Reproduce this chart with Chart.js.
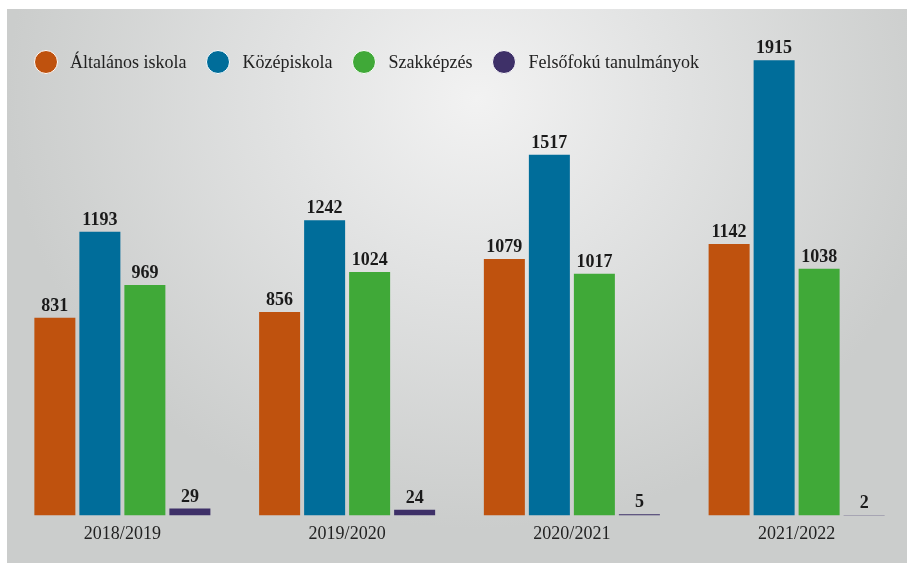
<!DOCTYPE html>
<html>
<head>
<meta charset="utf-8">
<script src="https://cdn.jsdelivr.net/npm/chart.js@4.4.1/dist/chart.umd.min.js"></script>
<style>
  html, body { margin: 0; padding: 0; background: #fff; overflow: hidden; }
  body { width: 907px; height: 563px; position: relative; }
  #panel {
    position: absolute; left: 7px; top: 9px; width: 902px; height: 554px;
    background: radial-gradient(ellipse 470px 430px at 470px 90px, #f2f2f2 0%, #e2e3e3 40%, #cbcdcc 100%);
  }
  #legend {
    position: absolute; left: 27px; top: 41px; display: flex; align-items: center;
    font-family: "Liberation Serif", serif; font-size: 18px; color: #222;
  }
  .item { display: flex; align-items: center; margin-right: 20px; }
  .dot {
    width: 22px; height: 22px; border-radius: 50%; border: 1.5px solid #fff;
    margin-right: 12px; box-sizing: content-box;
  }
  #chart { position: absolute; left: 0; top: 0; }
</style>
</head>
<body>
<div id="panel">
  <canvas id="chart" width="902" height="554"></canvas>
  <div id="legend"></div>
</div>
<script>
// Iskolai végzettség szerinti megoszlás, tanévenként
const years = ["2018/2019", "2019/2020", "2020/2021", "2021/2022"];
const seriesNames = ["Általános iskola", "Középiskola", "Szakképzés", "Felsőfokú tanulmányok"];
const altalanos = [831, 856, 1079, 1142];
const kozep = [1193, 1242, 1517, 1915];
const szakkepzes = [969, 1024, 1017, 1038];
const felsofoku = [29, 24, 5, 2];
const colors = ["#bf520e", "#006d9a", "#40a938", "#3e3068"];

const FONT = '"Liberation Serif", serif';

// legend as html, same order as datasets
const legendEl = document.getElementById("legend");
legendEl.innerHTML = seriesNames
  .map((n, i) => `<div class="item"><span class="dot" style="background:${colors[i]}"></span><span>${n}</span></div>`)
  .join("");

// value labels above each bar
const barLabels = {
  id: "barLabels",
  afterDatasetsDraw(chart) {
    const ctx = chart.ctx;
    ctx.save();
    ctx.font = `bold 18px ${FONT}`;
    ctx.fillStyle = "#1a1a1a";
    ctx.textAlign = "center";
    ctx.textBaseline = "alphabetic";
    chart.data.datasets.forEach((ds, di) => {
      const meta = chart.getDatasetMeta(di);
      meta.data.forEach((bar, i) => {
        ctx.fillText(String(ds.data[i]), bar.x, bar.y - 7);
      });
    });
    ctx.restore();
  },
};

const allSeries = [altalanos, kozep, szakkepzes, felsofoku];

new Chart(document.getElementById("chart"), {
  type: "bar",
  data: {
    labels: years,
    datasets: allSeries.map((d, i) => ({
      label: seriesNames[i],
      data: d,
      backgroundColor: colors[i],
      borderWidth: 0,
      categoryPercentage: 0.801,
      barPercentage: 0.911,
    })),
  },
  options: {
    responsive: false,
    animation: false,
    layout: { padding: { left: 3, right: 0, top: 31, bottom: 10 } },
    plugins: {
      legend: { display: false },
      tooltip: { enabled: false },
    },
    scales: {
      x: {
        grid: { display: false, drawTicks: false },
        border: { display: false },
        ticks: { color: "#222", font: { family: FONT, size: 18 }, padding: 8 },
      },
      y: {
        display: false,
        min: 0,
        max: 2000,
      },
    },
  },
  plugins: [barLabels],
});
</script>
</body>
</html>
